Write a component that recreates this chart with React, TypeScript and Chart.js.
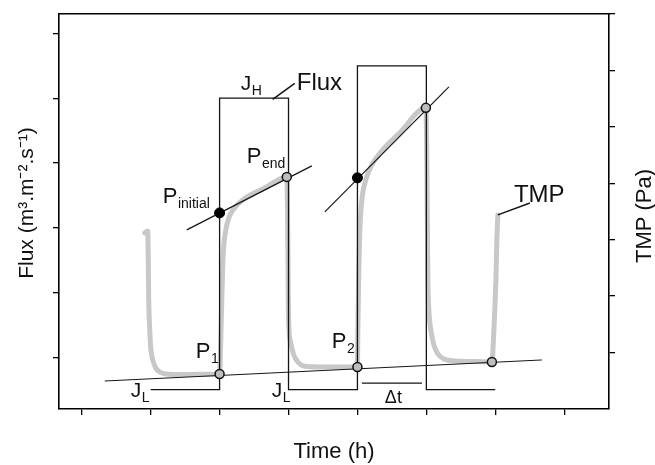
import React, { useEffect, useRef } from 'react';
import { Chart, registerables } from 'chart.js';

Chart.register(...registerables);

const FONT = '"Liberation Sans", Arial, Helvetica, sans-serif';

// Axis ticks (unlabelled in the original)
const timeTicks = [1, 2, 3, 4, 5, 6, 7, 8];
const fluxTicks = [1, 2, 3, 4, 5, 6];
const tmpTicks = [1, 2, 3, 4, 5, 6, 7];

// Flux step profile (left axis)
const fluxTime = [2, 3, 3, 4, 4, 5, 5, 6, 6, 7];
const fluxValues = [0.5, 0.5, 5, 5, 0.5, 0.5, 5.5, 5.5, 0.5, 0.5];

// TMP response (right axis)
const tmpTime = [
  1.914, 1.958, 1.965, 1.972, 1.987, 2.001, 2.03, 2.074, 2.132, 2.219, 2.422, 2.713, 3.0,
  3.017, 3.032, 3.046, 3.061, 3.09, 3.134, 3.206, 3.337, 3.656, 3.975,
  3.99, 3.997, 4.004, 4.033, 4.077, 4.135, 4.222, 4.454, 4.745, 5.0,
  5.006, 5.02, 5.035, 5.064, 5.122, 5.209, 5.354, 5.615, 5.993,
  6.007, 6.014, 6.022, 6.036, 6.065, 6.109, 6.167, 6.254, 6.414, 6.704, 6.951,
  6.98, 7.009, 7.023, 7.038,
];
const tmpValues = [
  3.121, 3.156, 2.642, 1.933, 1.401, 1.082, 0.869, 0.727, 0.656, 0.621, 0.612, 0.615, 0.621,
  1.223, 1.933, 2.553, 2.908, 3.174, 3.387, 3.546, 3.706, 3.918, 4.113,
  2.996, 1.933, 1.489, 1.17, 0.957, 0.833, 0.762, 0.745, 0.745, 0.745,
  1.401, 2.465, 3.174, 3.706, 4.06, 4.326, 4.574, 4.894, 5.337,
  4.415, 3.351, 2.287, 1.755, 1.401, 1.135, 0.975, 0.887, 0.851, 0.842, 0.833,
  1.401, 2.287, 2.996, 3.44,
];

// Marked points on the TMP curve
const initialTime = [3.0, 5.0];
const initialTmp = [3.475, 4.096];
const markTime = [3.0, 3.975, 5.0, 5.993, 6.951];
const markTmp = [0.621, 4.113, 0.745, 5.337, 0.833];

// Tangent / reference lines (TMP axis)
const tangent1Time = [2.524, 4.338];
const tangent1Tmp = [3.174, 4.309];
const tangent2Time = [4.527, 6.327];
const tangent2Tmp = [3.493, 5.709];
const baseTime = [1.334, 7.676];
const baseTmp = [0.496, 0.869];

// Leader lines for the labels
const fluxLeaderTime = [3.77, 4.09];
const fluxLeaderFlux = [4.98, 5.23];
const tmpLeaderTime = [7.038, 7.502];
const tmpLeaderTmp = [3.44, 3.65];
const dtTime = [5.064, 5.935];
const dtFlux = [0.6, 0.6];

// Annotation labels (anchored in time / flux units)
const labelMain = ['P', 'P', 'P', 'P', 'J', 'J', 'J', 'Flux', 'TMP', 'Δt'];
const labelSub = ['initial', 'end', '1', '2', 'H', 'L', 'L', '', '', ''];
const labelTime = [2.176, 3.395, 2.655, 4.628, 3.308, 1.711, 3.758, 4.12, 7.27, 5.398];
const labelFlux = [3.377, 3.994, 0.985, 1.139, 5.12, 0.383, 0.383, 5.12, 3.392, 0.29];

const pts = (xs: number[], ys: number[]) => xs.map((x, i) => ({ x, y: ys[i] }));

const mainSize: Record<string, number> = { P: 22, J: 21, Flux: 24, TMP: 24, 'Δt': 18 };

const textPlugin = {
  id: 'textPlugin',
  afterDraw(chart: any) {
    const { ctx, scales } = chart;
    const xs = scales.x;
    const yf = scales.yFlux;
    ctx.save();
    ctx.fillStyle = '#111';
    ctx.textAlign = 'left';
    ctx.textBaseline = 'alphabetic';
    labelMain.forEach((m, i) => {
      const px = xs.getPixelForValue(labelTime[i]);
      const py = yf.getPixelForValue(labelFlux[i]);
      ctx.font = `${mainSize[m] || 22}px ${FONT}`;
      ctx.fillText(m, px, py);
      if (labelSub[i]) {
        const w = ctx.measureText(m).width;
        ctx.font = `14px ${FONT}`;
        ctx.fillText(labelSub[i], px + w + 0.5, py + 5);
      }
    });
    // rotated axis titles
    ctx.textAlign = 'center';
    ctx.textBaseline = 'middle';
    ctx.font = `21px ${FONT}`;
    ctx.save();
    ctx.translate(27, 203);
    ctx.rotate(-Math.PI / 2);
    ctx.fillText('Flux (m³.m⁻².s⁻¹)', 0, 0);
    ctx.restore();
    ctx.font = `22px ${FONT}`;
    ctx.save();
    ctx.translate(645, 216);
    ctx.rotate(-Math.PI / 2);
    ctx.fillText('TMP (Pa)', 0, 0);
    ctx.restore();
    ctx.restore();
  },
};

const gridOpts = {
  drawOnChartArea: false,
  drawTicks: true,
  tickLength: 6,
  color: '#000',
  tickColor: '#000',
  lineWidth: 1.3,
};
const borderOpts = { display: true, color: '#000', width: 1.6 };

export default function App() {
  const ref = useRef<HTMLCanvasElement>(null);

  useEffect(() => {
    if (!ref.current) return;
    const blackLine = (data: any[], yAxisID: string, width = 1.2) => ({
      data,
      yAxisID,
      xAxisID: 'x',
      showLine: true,
      borderColor: '#151515',
      borderWidth: width,
      pointRadius: 0,
      fill: false,
      tension: 0,
    });
    const chart = new Chart(ref.current, {
      type: 'scatter',
      data: {
        datasets: [
          {
            data: pts(initialTime, initialTmp),
            yAxisID: 'yTmp',
            xAxisID: 'x',
            pointRadius: 5,
            pointBackgroundColor: '#000',
            pointBorderColor: '#000',
            pointBorderWidth: 1,
            showLine: false,
          },
          {
            data: pts(markTime, markTmp),
            yAxisID: 'yTmp',
            xAxisID: 'x',
            pointRadius: 4.5,
            pointBackgroundColor: '#bdbdbd',
            pointBorderColor: '#111',
            pointBorderWidth: 1.5,
            showLine: false,
          },
          blackLine(pts(tangent1Time, tangent1Tmp), 'yTmp'),
          blackLine(pts(tangent2Time, tangent2Tmp), 'yTmp'),
          blackLine(pts(baseTime, baseTmp), 'yTmp', 1),
          blackLine(pts(tmpLeaderTime, tmpLeaderTmp), 'yTmp', 1.5),
          blackLine(pts(fluxLeaderTime, fluxLeaderFlux), 'yFlux', 1.5),
          blackLine(pts(dtTime, dtFlux), 'yFlux', 1.3),
          blackLine(pts(fluxTime, fluxValues), 'yFlux', 1.3),
          {
            data: pts(tmpTime, tmpValues),
            yAxisID: 'yTmp',
            xAxisID: 'x',
            showLine: true,
            borderColor: '#c8c8c8',
            borderWidth: 5,
            borderCapStyle: 'round',
            borderJoinStyle: 'round',
            cubicInterpolationMode: 'monotone',
            pointRadius: 0,
            fill: false,
          },
        ],
      },
      options: {
        animation: false,
        responsive: true,
        maintainAspectRatio: false,
        events: [],
        layout: { padding: { top: 14, left: 0, right: 0, bottom: 0 } },
        plugins: { legend: { display: false }, tooltip: { enabled: false } },
        scales: {
          x: {
            type: 'linear',
            position: 'bottom',
            min: 0.67,
            max: 8.65,
            afterBuildTicks: (s: any) => {
              s.ticks = timeTicks.map((v) => ({ value: v }));
            },
            afterFit: (s: any) => {
              s.height = 56;
            },
            ticks: { display: false },
            grid: gridOpts,
            border: borderOpts,
            title: {
              display: true,
              text: 'Time (h)',
              color: '#111',
              font: { family: FONT, size: 22 },
              padding: { top: 0, bottom: 0 },
            },
          },
          xTop: {
            type: 'linear',
            position: 'top',
            min: 0.67,
            max: 8.65,
            afterFit: (s: any) => {
              s.height = 0;
            },
            ticks: { display: false },
            grid: { drawOnChartArea: false, drawTicks: false },
            border: borderOpts,
          },
          yFlux: {
            type: 'linear',
            position: 'left',
            min: 0.2,
            max: 6.3,
            afterBuildTicks: (s: any) => {
              s.ticks = fluxTicks.map((v) => ({ value: v }));
            },
            afterFit: (s: any) => {
              s.width = 59;
            },
            ticks: { display: false },
            grid: gridOpts,
            border: borderOpts,
          },
          yTmp: {
            type: 'linear',
            position: 'right',
            min: 0,
            max: 7,
            afterBuildTicks: (s: any) => {
              s.ticks = tmpTicks.map((v) => ({ value: v }));
            },
            afterFit: (s: any) => {
              s.width = 46;
            },
            ticks: { display: false },
            grid: gridOpts,
            border: borderOpts,
          },
        },
      } as any,
      plugins: [textPlugin],
    });
    return () => chart.destroy();
  }, []);

  return (
    <div style={{ position: 'fixed', left: 0, top: 0, width: 655, height: 465, background: '#fff' }}>
      <canvas ref={ref} />
    </div>
  );
}
